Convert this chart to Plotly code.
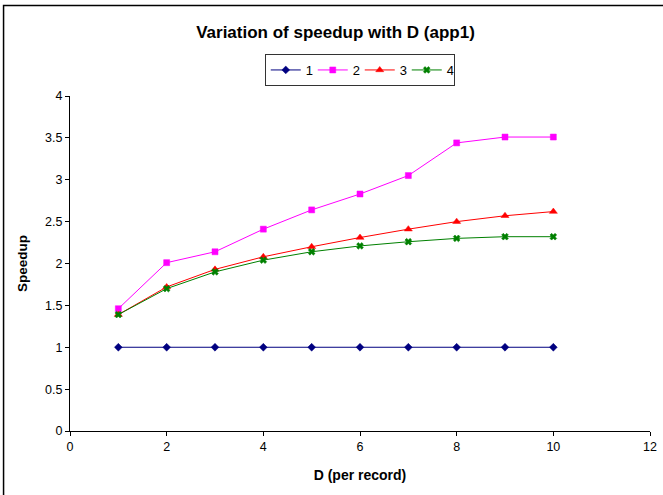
import plotly.graph_objects as go

# D values (per record) and speedup for each configuration
d_values = [1, 2, 3, 4, 5, 6, 7, 8, 9, 10]
speedup_1 = [1.0, 1.0, 1.0, 1.0, 1.0, 1.0, 1.0, 1.0, 1.0, 1.0]
speedup_2 = [1.46, 2.01, 2.14, 2.41, 2.64, 2.83, 3.05, 3.44, 3.51, 3.51]
speedup_3 = [1.39, 1.72, 1.93, 2.08, 2.20, 2.31, 2.41, 2.50, 2.57, 2.62]
speedup_4 = [1.39, 1.70, 1.90, 2.04, 2.14, 2.21, 2.26, 2.30, 2.32, 2.32]

series_names = ["1", "2", "3", "4"]
series_values = [speedup_1, speedup_2, speedup_3, speedup_4]
colors = ["#000080", "#FF00FF", "#FF0000", "#008000"]
symbols = ["diamond", "square", "triangle-up", "x"]
sizes = [6, 6, 7, 6]

fig = go.Figure()
for name, vals, col, sym, sz in zip(series_names, series_values, colors, symbols, sizes):
    fig.add_trace(go.Scatter(
        x=d_values, y=vals, name=name, mode="lines+markers",
        line=dict(color=col, width=1),
        marker=dict(symbol=sym, size=sz, color=col, line=dict(width=0.5, color=col)),
    ))

L, R, T, B = 70, 12.5, 96, 64
W, H = 663, 495
pw, ph = W - L - R, H - T - B

def px_x(p):
    return (p - L) / pw

def px_y(p):
    return 1 - (p - T) / ph

font_family = "Liberation Sans, Arial, sans-serif"

fig.update_layout(
    width=W, height=H,
    margin=dict(l=L, r=R, t=T, b=B, pad=0, autoexpand=False),
    paper_bgcolor="white", plot_bgcolor="white",
    font=dict(family=font_family, size=12.5, color="black"),
    title=dict(text="<b>Variation of speedup with D (app1)</b>",
               xref="container", x=335.5 / W, xanchor="center",
               yref="container", y=1 - 32 / H, yanchor="middle",
               font=dict(size=17), automargin=False),
    showlegend=True,
    legend=dict(orientation="h", x=px_x(360), xanchor="center",
                y=px_y(54), yanchor="top",
                bordercolor="#333333", borderwidth=1, itemwidth=30,
                entrywidth=2, entrywidthmode="pixels",
                font=dict(size=13), tracegroupgap=0),
    xaxis=dict(range=[0, 12], tickvals=[0, 2, 4, 6, 8, 10, 12],
               showgrid=False, zeroline=False, showline=True,
               linecolor="black", linewidth=1, ticks="outside",
               ticklen=4, tickcolor="black", automargin=False,
               title=dict(text="<b>D (per record)</b>", standoff=17,
                          font=dict(size=14))),
    yaxis=dict(range=[0, 4], tickvals=[0, 0.5, 1, 1.5, 2, 2.5, 3, 3.5, 4],
               ticktext=["0", "0.5", "1", "1.5", "2", "2.5", "3", "3.5", "4"],
               showgrid=False, zeroline=False, showline=True,
               linecolor="black", linewidth=1, ticks="outside",
               ticklen=4, tickcolor="black", automargin=False,
               title=dict(text="<b>Speedup</b>", standoff=14,
                          font=dict(size=13.5))),
)

# Outer chart-area frame (left and top edges visible)
fig.add_shape(type="rect", xref="paper", yref="paper",
              x0=px_x(3.5), x1=px_x(700), y0=px_y(520), y1=px_y(5.5),
              line=dict(color="black", width=1.5), fillcolor="rgba(0,0,0,0)",
              layer="below")

fig.write_html("out.html")
